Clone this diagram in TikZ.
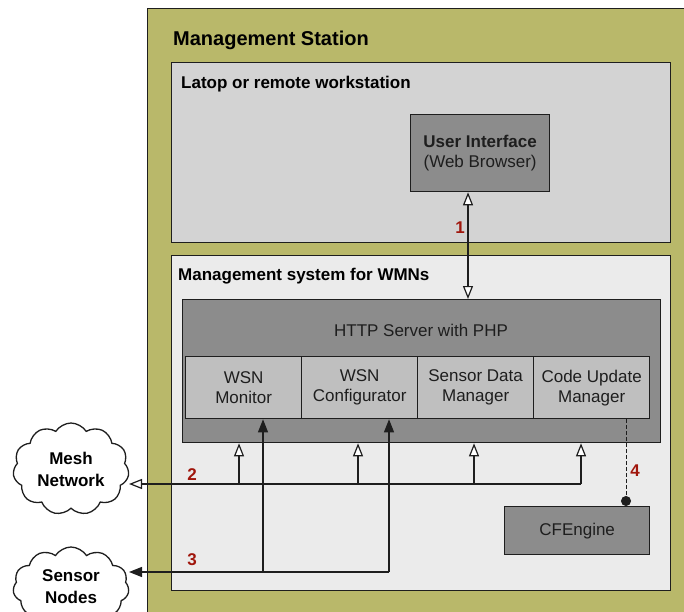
\documentclass[tikz,border=0pt]{standalone}
\usepackage{fontspec}
\setmainfont{Liberation Sans}
\usetikzlibrary{arrows.meta,shapes.symbols}

\definecolor{stationcol}{RGB}{185,184,106}
\definecolor{wscol}{RGB}{211,211,211}
\definecolor{mgmtcol}{RGB}{235,235,235}
\definecolor{darkbox}{RGB}{140,140,140}
\definecolor{subbox}{RGB}{191,191,191}
\definecolor{linecol}{RGB}{30,30,30}
\definecolor{numcol}{RGB}{160,22,12}

\tikzset{
  txt/.style={font=\fontsize{17}{20}\selectfont, text=linecol, inner sep=0pt},
  frame/.style={draw=linecol, line width=1.3pt, inner sep=0pt, anchor=north west,
                align=center, font=\fontsize{17}{20}\selectfont, text=linecol},
  subframe/.style={frame, fill=subbox, minimum width=116, minimum height=62},
  heading/.style={font=\bfseries\fontsize{17}{20}\selectfont, text=black, inner sep=0pt, anchor=base west},
  num/.style={font=\bfseries\fontsize{17}{20}\selectfont, text=numcol, inner sep=0pt},
  cloudnode/.style={cloud, cloud puffs=11, cloud puff arc=115, cloud ignores aspect,
                    draw=linecol, line width=1.3pt, fill=white, minimum width=116, minimum height=92,
                    inner sep=0pt, align=center, font=\bfseries\fontsize{17}{22}\selectfont},
  link/.style={draw=linecol, line width=1.2pt},
  openT/.tip={Triangle[fill=white, length=13pt, width=10pt]},
  fillT/.tip={Triangle[length=13pt, width=10pt]},
  dotT/.tip={Circle[length=10pt]},
}

\begin{document}
\begin{tikzpicture}[x=1pt, y=-1pt]
\useasboundingbox (0,0) rectangle (684,611);
\clip (0,0) rectangle (684,611);

% containers
\node[frame, fill=stationcol, minimum width=560, minimum height=640] (station) at (147,8) {};
\node[heading, font=\bfseries\fontsize{20}{24}\selectfont] (sttitle) at (173,45) {Management Station};

\node[frame, fill=wscol, minimum width=499, minimum height=180] (ws) at (171,62) {};
\node[heading] (wstitle) at (181,88) {Latop or remote workstation};

\node[frame, fill=mgmtcol, minimum width=499, minimum height=335] (mgmt) at (171,255) {};
\node[heading] (mgmttitle) at (178,280) {Management system for WMNs};

% components
\node[frame, fill=darkbox, minimum width=139, minimum height=77] (ui) at (410,114)
  {\textbf{User Interface}\\(Web Browser)};

\node[frame, fill=darkbox, minimum width=478, minimum height=143] (http) at (182,299) {};
\node[txt, anchor=base] (httpt) at (421,336) {HTTP Server with PHP};

\node[subframe] (mon) at (185,356) {WSN\\Monitor};
\node[subframe] (cfg) at (301,356) {WSN\\Configurator};
\node[subframe] (sdm) at (417,356) {Sensor Data\\Manager};
\node[subframe] (cum) at (533,356) {Code Update\\Manager};

\node[frame, fill=darkbox, minimum width=145, minimum height=48] (cfe) at (504,506) {CFEngine};

% external networks
\node[cloudnode] (mesh) at (71,469) {Mesh\\Network};
\node[cloudnode, minimum height=80] (sensor) at (71,587) {Sensor\\Nodes};

% routing points
\coordinate (c1) at (468,0);
\coordinate (c4) at (626,0);
\coordinate (cloudx) at (129,0);
\coordinate (j1) at (239,484);
\coordinate (j2) at (358,484);
\coordinate (j3) at (474,484);
\coordinate (j4) at (581,484);
\coordinate (k1) at (263,572);
\coordinate (k2) at (389,572);

% 1: browser <-> web server
\draw[link, openT-openT] (ui.south -| c1) -- (http.north -| c1);

% 2: mesh network
\foreach \j in {j1,j2,j3,j4} \draw[link, -openT] (\j) -- (\j |- http.south);
\draw[link, -openT] (j4) -- (cloudx |- j4);

% 3: sensor nodes
\draw[link, -fillT] (k1) -- (k1 |- mon.south);
\draw[link, -fillT] (k2) -- (k2 |- cfg.south);
\draw[link, -fillT] (k2) -- (cloudx |- k2);

% 4: code updates through CFEngine
\draw[link, line width=1pt, dash pattern=on 4pt off 2pt, -dotT] (c4 |- cum.south) -- (c4 |- cfe.north);

% step numbers
\node[num] (n1) at (460,228) {1};
\node[num] (n2) at (192,475) {2};
\node[num] (n3) at (192,560) {3};
\node[num] (n4) at (635,471) {4};
\end{tikzpicture}
\end{document}
